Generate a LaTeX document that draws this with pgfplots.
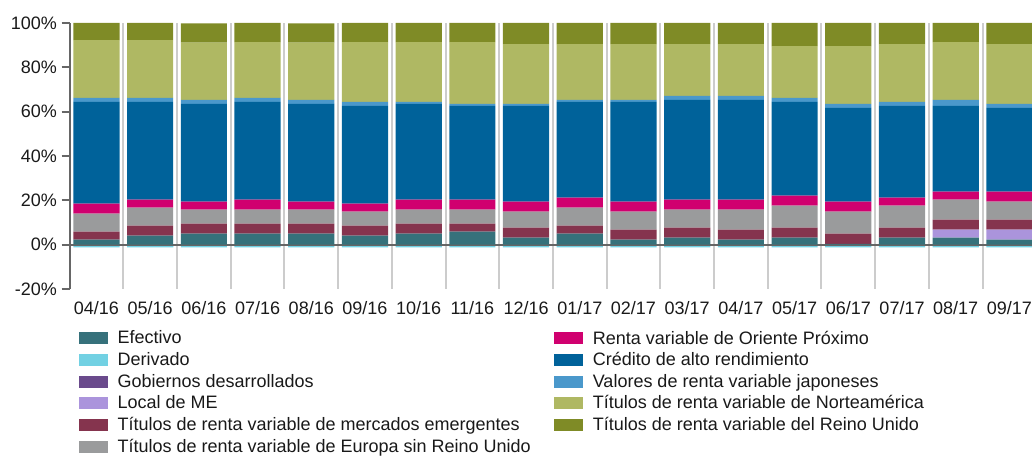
\documentclass[border=0pt]{standalone}
\usepackage{pgfplots}
\pgfplotsset{compat=1.18}
\usepackage{pgfplotstable}
\usepackage{fontspec}
\setmainfont{Liberation Sans}

\definecolor{cEfe}{HTML}{36717B}
\definecolor{cDer}{HTML}{72D1E3}
\definecolor{cGob}{HTML}{6A4A8C}
\definecolor{cLoc}{HTML}{AB94DC}
\definecolor{cEM}{HTML}{85344E}
\definecolor{cEu}{HTML}{9A9B9C}
\definecolor{cME}{HTML}{D0006F}
\definecolor{cCr}{HTML}{00629A}
\definecolor{cJp}{HTML}{4A98CB}
\definecolor{cNA}{HTML}{AFB863}
\definecolor{cUK}{HTML}{7F8B26}
\definecolor{cAxis}{HTML}{666666}
\definecolor{cGrid}{HTML}{CCCCCC}

% valores en % (der = Derivado, negativo)
\pgfplotstableread{
x  efe  gob  loc  em   eu   me   cr    jp   na    uk    der
0  2.3  0    0    3.6  8.1  4.5  45.9  1.8  26.1  7.7   -1.2
1  4.1  0    0    4.5  8.1  3.6  44.1  1.8  26.1  7.7   -1.2
2  5.0  0    0    4.5  6.3  3.6  44.1  1.8  25.9  8.6   -1.2
3  5.0  0    0    4.5  6.3  4.5  44.1  1.8  25.2  8.6   -1.2
4  5.0  0    0    4.5  6.3  3.6  44.1  1.8  25.9  8.6   -1.2
5  4.1  0    0    4.5  6.3  3.6  44.1  1.8  27.0  8.6   -1.2
6  5.0  0    0    4.5  6.3  4.5  43.2  0.9  27.0  8.6   -1.2
7  5.9  0    0    3.6  6.3  4.5  42.3  0.9  27.9  8.6   -1.2
8  3.2  0    0    4.5  7.2  4.5  43.2  0.9  27.0  9.5   -1.2
9  5.0  0    0    3.6  8.1  4.5  43.2  0.9  25.2  9.5   -1.2
10 2.3  0    0    4.5  8.1  4.5  45.0  0.9  25.2  9.5   -1.2
11 3.2  0    0    4.5  8.1  4.5  45.0  1.8  23.4  9.5   -1.2
12 2.3  0    0    4.5  9.0  4.5  45.0  1.8  23.4  9.5   -1.2
13 3.2  0    0    4.5  9.9  4.5  42.3  1.8  23.4  10.4  -1.2
14 0.4  0    0    4.6  9.9  4.5  42.3  1.8  26.1  10.4  -1.2
15 3.2  0    0    4.5  9.9  3.6  41.4  1.8  26.1  9.5   -1.2
16 3.2  0    3.6  4.5  9.0  3.6  38.7  2.7  26.1  8.6   -1.2
17 2.3  0    4.5  4.5  8.1  4.5  37.8  1.8  27.0  9.5   -1.2
}\datos

\pgfplotsset{
  sw/.style={fill=#1, draw=none,
    legend image code/.code={\fill[#1] (0pt,-4.5pt) rectangle (21.75pt,4.5pt);}},
  marco/.style={at={(52.2pt,125.25pt)}, anchor=south west,
    scale only axis, width=725pt, height=199.5pt,
    xmin=-0.5, xmax=17.5, ymin=-20, ymax=100, bar width=0.86},
}

\begin{document}
\begin{tikzpicture}
\path[use as bounding box] (0,0) rectangle (774pt,342pt);

% Derivado va por debajo de 0, en un eje aparte sin apilar
\begin{axis}[marco, hide axis, ybar]
\addplot[sw=cDer] table[x=x,y=der]{\datos};
\end{axis}

\begin{axis}[
  marco,
  ybar stacked,
  axis lines*=left,
  x axis line style={draw=none},
  y axis line style={draw=cAxis, line width=1.5pt},
  xtick={0,...,17},
  xticklabels={04/16,05/16,06/16,07/16,08/16,09/16,10/16,11/16,12/16,01/17,02/17,03/17,04/17,05/17,06/17,07/17,08/17,09/17},
  x tick style={draw=none},
  minor xtick={0.5,1.5,...,16.5},
  minor tick length=0pt,
  xminorgrids=true,
  minor grid style={draw=cGrid, line width=1.5pt},
  ytick={-20,0,...,100},
  y tick style={draw=cAxis, line width=1.5pt},
  tick align=outside, major tick length=6pt,
  yticklabel={\pgfmathprintnumber{\tick}\%},
  /pgf/number format/assume math mode=true,
  tick label style={font=\fontsize{13.5}{16}\selectfont, text=black!90},
  legend style={at={(axis description cs:0.0097,-0.146)}, anchor=north west,
    draw=none, fill=none, inner sep=0pt, row sep=0.85pt,
    font=\fontsize{13.5}{16}\selectfont, text=black!90,
    /tikz/every odd column/.append style={column sep=5pt},
    /tikz/every even column/.append style={column sep=15.75pt}},
  legend cell align=left,
  transpose legend, legend columns=6,
]
\addplot[sw=cEfe] table[x=x,y=efe]{\datos}; \addlegendentry{Efectivo}
\addlegendimage{sw=cDer} \addlegendentry{Derivado}
\addplot[sw=cGob] table[x=x,y=gob]{\datos}; \addlegendentry{Gobiernos desarrollados}
\addplot[sw=cLoc] table[x=x,y=loc]{\datos}; \addlegendentry{Local de ME}
\addplot[sw=cEM] table[x=x,y=em]{\datos}; \addlegendentry{Títulos de renta variable de mercados emergentes}
\addplot[sw=cEu] table[x=x,y=eu]{\datos}; \addlegendentry{Títulos de renta variable de Europa sin Reino Unido}
\addplot[sw=cME] table[x=x,y=me]{\datos}; \addlegendentry{Renta variable de Oriente Próximo}
\addplot[sw=cCr] table[x=x,y=cr]{\datos}; \addlegendentry{Crédito de alto rendimiento}
\addplot[sw=cJp] table[x=x,y=jp]{\datos}; \addlegendentry{Valores de renta variable japoneses}
\addplot[sw=cNA] table[x=x,y=na]{\datos}; \addlegendentry{Títulos de renta variable de Norteamérica}
\addplot[sw=cUK] table[x=x,y=uk]{\datos}; \addlegendentry{Títulos de renta variable del Reino Unido}
\draw[cAxis, line width=1.5pt] (axis cs:-0.5,0) -- (axis cs:17.5,0);
\end{axis}
\end{tikzpicture}
\end{document}
